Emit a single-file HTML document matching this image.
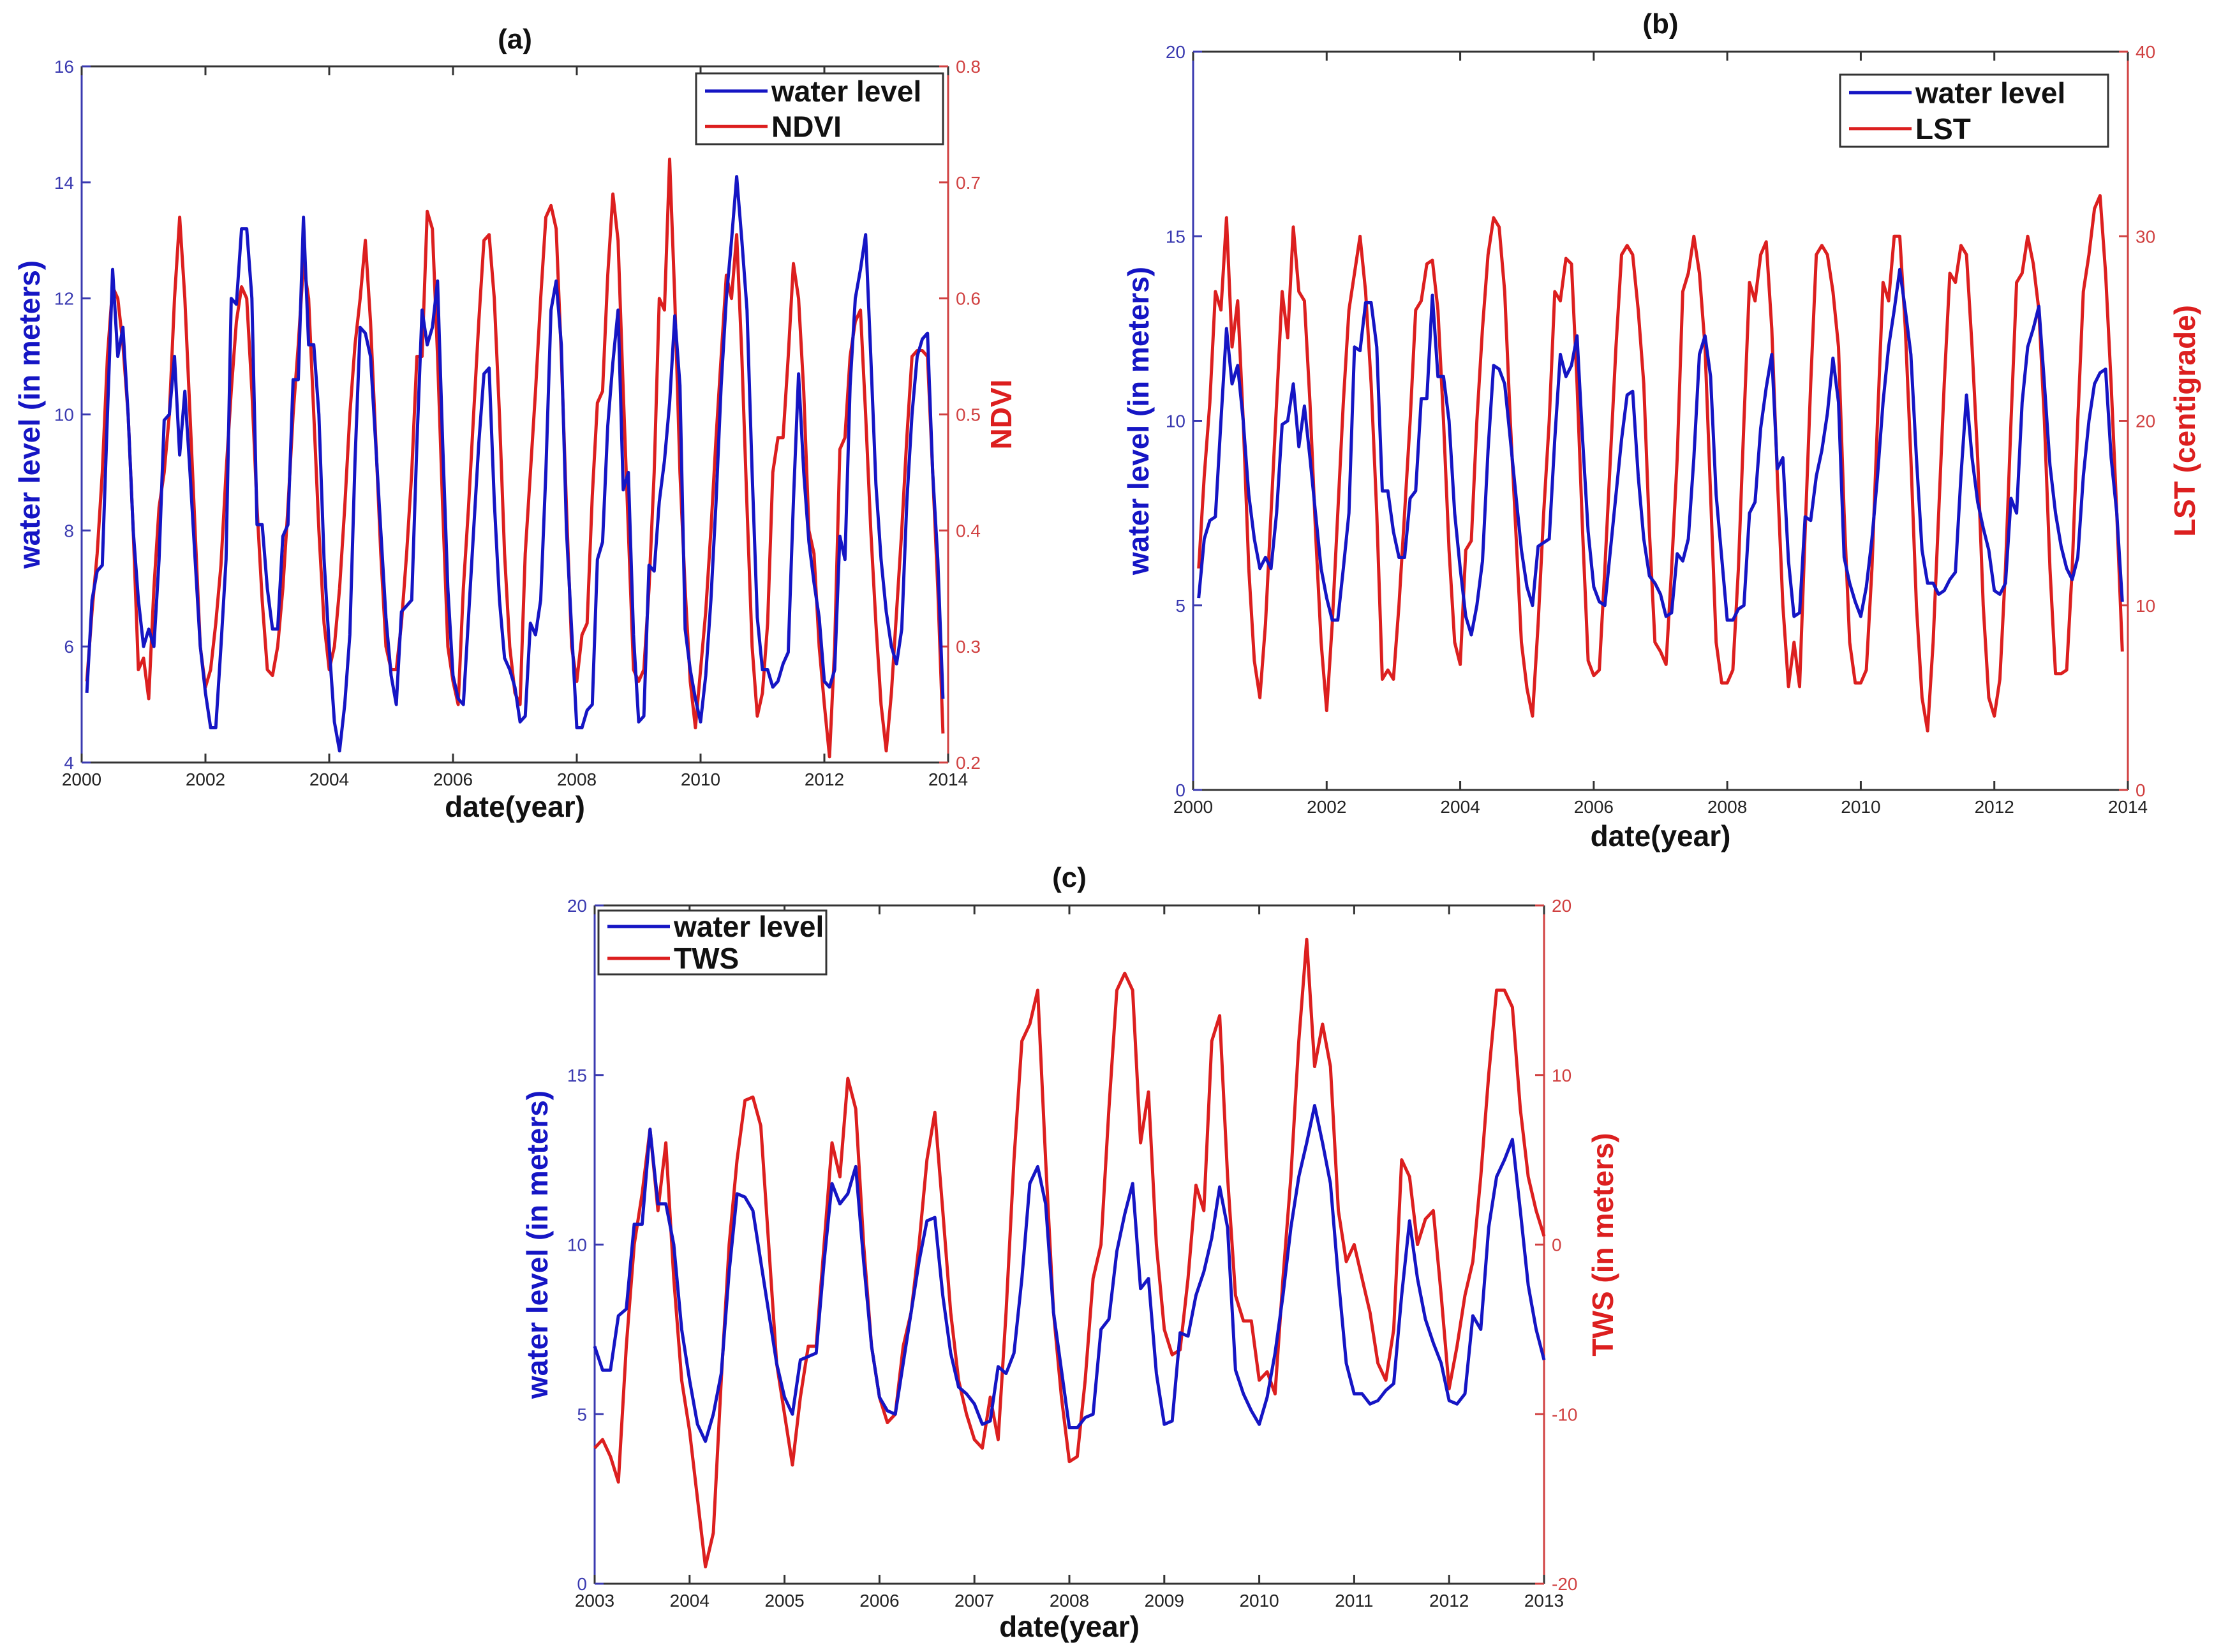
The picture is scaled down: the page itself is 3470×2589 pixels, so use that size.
<!DOCTYPE html>
<html><head><meta charset="utf-8"><style>
html,body{margin:0;padding:0;background:#fff;}
svg{display:block;font-family:"Liberation Sans",Arial,sans-serif;}
</style></head><body>
<svg id="fig" width="3470" height="2589" viewBox="0 0 3470 2589" xmlns="http://www.w3.org/2000/svg"></svg>
<script>
// ---- data (monthly, water level & NDVI & LST from Feb 2000 to Dec 2013) ----
const waterLevel = [5.2,6.8,7.3,7.4,10.0,12.5,11.0,11.5,10.0,8.0,6.8,
6.0,6.3,6.0,7.5,9.9,10.0,11.0,9.3,10.4,9.0,7.5,6.0,
5.2,4.6,4.6,6.0,7.5,12.0,11.9,13.2,13.2,12.0,8.1,8.1,
7.0,6.3,6.3,7.9,8.1,10.6,10.6,13.4,11.2,11.2,10.0,7.5,
6.0,4.7,4.2,5.0,6.2,9.2,11.5,11.4,11.0,9.5,8.0,6.5,
5.5,5.0,6.6,6.7,6.8,9.5,11.8,11.2,11.5,12.3,9.5,7.0,
5.5,5.1,5.0,6.5,8.0,9.5,10.7,10.8,8.5,6.8,5.8,5.6,
5.3,4.7,4.8,6.4,6.2,6.8,9.0,11.8,12.3,11.2,8.0,6.3,
4.6,4.6,4.9,5.0,7.5,7.8,9.8,10.9,11.8,8.7,9.0,6.2,
4.7,4.8,7.4,7.3,8.5,9.2,10.2,11.7,10.5,6.3,5.6,5.1,
4.7,5.5,6.8,8.5,10.5,12.0,13.0,14.1,13.0,11.8,9.0,6.5,
5.6,5.6,5.3,5.4,5.7,5.9,8.5,10.7,9.0,7.8,7.1,6.5,
5.4,5.3,5.6,7.9,7.5,10.5,12.0,12.5,13.1,11.0,8.8,7.5,
6.6,6.0,5.7,6.3,8.5,10.0,11.0,11.3,11.4,9.0,7.5,5.1];
const ndvi = [0.27,0.33,0.38,0.45,0.55,0.61,0.60,0.56,0.50,0.40,0.28,
0.29,0.255,0.35,0.42,0.45,0.50,0.60,0.67,0.60,0.50,0.40,0.30,
0.265,0.28,0.32,0.37,0.45,0.52,0.58,0.61,0.60,0.52,0.42,0.34,
0.28,0.275,0.30,0.35,0.42,0.50,0.56,0.63,0.60,0.50,0.40,0.32,
0.28,0.30,0.35,0.42,0.50,0.56,0.60,0.65,0.58,0.48,0.38,0.30,
0.28,0.28,0.32,0.38,0.45,0.55,0.55,0.675,0.66,0.55,0.42,0.30,
0.27,0.25,0.35,0.42,0.50,0.58,0.65,0.655,0.60,0.50,0.38,0.30,
0.26,0.25,0.38,0.45,0.52,0.60,0.67,0.68,0.66,0.55,0.42,0.30,
0.27,0.31,0.32,0.43,0.51,0.52,0.62,0.69,0.65,0.52,0.40,0.28,
0.27,0.28,0.35,0.45,0.60,0.59,0.72,0.60,0.45,0.35,0.27,0.23,
0.28,0.33,0.40,0.48,0.55,0.62,0.60,0.655,0.55,0.42,0.30,0.24,
0.26,0.32,0.45,0.48,0.48,0.55,0.63,0.60,0.52,0.40,0.38,0.30,
0.25,0.205,0.30,0.47,0.48,0.55,0.58,0.59,0.50,0.40,0.32,0.25,
0.21,0.26,0.33,0.40,0.48,0.55,0.555,0.555,0.55,0.45,0.35,0.225];
const lst = [12,17,21,27,26,31,24,26.5,20,12,7,
5,9,15,21,27,24.5,30.5,27,26.5,21,14,8,
4.3,9,15,21,26,28,30,27,22,15,6,6.5,
6,10,15,20,26,26.5,28.5,28.7,26,20,13,8,
6.8,13,13.5,20,25,29,31,30.5,27,20,14,8,
5.5,4,9,15,20,27,26.5,28.8,28.5,22,14,7,
6.2,6.5,12,18,24,29,29.5,29,26,22,14,8,
7.5,6.8,12,18,27,28,30,28,24,16,8,5.8,
5.8,6.5,12,20,27.5,26.5,29,29.7,25,17,10,5.6,
8,5.6,14,22,29,29.5,29,27,24,15,8,5.8,
5.8,6.5,12,20,27.5,26.5,30,30,25,18,10,5,
3.2,8,15,22,28,27.5,29.5,29,24,18,10,5,
4,6,12,20,27.5,28,30,28.5,26,20,12,6.3,
6.3,6.5,12,20,27,29,31.5,32.2,28,22,15,7.5];
// TWS monthly Jan 2003 .. Jan 2013
const tws = [-12,-11.5,-12.5,-14,-6,0,3,6.8,2,6,-2,-8,
-11,-15,-19,-17,-8,0,5,8.5,8.7,7,0,-7,
-10,-13,-9,-6,-6,0,6,4,9.8,8,0,-6,
-9,-10.5,-10,-6,-4,0,5,7.8,2,-4,-8,-10,
-11.5,-12,-9,-11.5,-4,5,12,13,15,5,-4,-9,
-12.8,-12.5,-8,-2,0,8,15,16,15,6,9,0,
-5,-6.5,-6.2,-2,3.5,2,12,13.5,4,-3,-4.5,-4.5,
-8,-7.5,-8.8,-2,4,12,18,10.5,13,10.5,2,-1,
0,-2,-4,-7,-8,-5,5,4,0,1.5,2,-3,
-8.5,-6,-3,-1,4,10,15,15,14,8,4,2,
0.5];
const ticksXab = [2000,2002,2004,2006,2008,2010,2012,2014];
const ticksXc = [2003,2004,2005,2006,2007,2008,2009,2010,2011,2012,2013];
const ticksWlA = [4,6,8,10,12,14,16];
const ticksNdvi = [0.2,0.3,0.4,0.5,0.6,0.7,0.8];
const ticksWlB = [0,5,10,15,20];
const ticksLst = [0,10,20,30,40];
const ticksTws = [-20,-10,0,10,20];

const NS="http://www.w3.org/2000/svg";
const svg=document.getElementById('fig');
function mk(tag,attrs,parent){const e=document.createElementNS(NS,tag);for(const k in attrs)e.setAttribute(k,attrs[k]);(parent||svg).appendChild(e);return e;}
const BLUE="#1515c4", RED="#dc1f1f";

function panel(c){
  const g=mk('g',{});
  
  
  const sx=v=>c.L+(v-c.x0)/(c.x1-c.x0)*(c.R-c.L);
  const syl=v=>c.B-(v-c.yl0)/(c.yl1-c.yl0)*(c.B-c.T);
  const syr=v=>c.B-(v-c.yr0)/(c.yr1-c.yr0)*(c.B-c.T);
  // frame
  const top=mk('line',{x1:c.L,y1:c.T,x2:c.R,y2:c.T,stroke:"#333",'stroke-width':3},g);
  
  const bot=mk('line',{x1:c.L,y1:c.B,x2:c.R,y2:c.B,stroke:"#333",'stroke-width':3},g);
  
  const la=mk('line',{x1:c.L,y1:c.T,x2:c.L,y2:c.B,stroke:"#3a3ab0",'stroke-width':3},g);
  
  const ra=mk('line',{x1:c.R,y1:c.T,x2:c.R,y2:c.B,stroke:"#d04040",'stroke-width':3},g);
  
  // x ticks
  c.xt.forEach(v=>{
    const x=sx(v);
    mk('line',{x1:x,y1:c.B,x2:x,y2:c.B-14,stroke:"#333",'stroke-width':3},g);
    mk('line',{x1:x,y1:c.T,x2:x,y2:c.T+14,stroke:"#333",'stroke-width':3},g);
    const t=mk('text',{x:x,y:c.B+36,'font-size':28,'text-anchor':'middle',fill:'#222'},g);
    t.textContent=v;
    
    
  });
  c.ytl.forEach(v=>{
    const y=syl(v);
    mk('line',{x1:c.L,y1:y,x2:c.L+14,y2:y,stroke:"#3a3ab0",'stroke-width':3},g);
    const t=mk('text',{x:c.L-12,y:y+10,'font-size':28,'text-anchor':'end',fill:'#3a3ab0'},g);
    t.textContent=v;
    
    
  });
  c.ytr.forEach(v=>{
    const y=syr(v);
    mk('line',{x1:c.R,y1:y,x2:c.R-14,y2:y,stroke:"#d04040",'stroke-width':3},g);
    const t=mk('text',{x:c.R+12,y:y+10,'font-size':28,'text-anchor':'start',fill:'#d04040'},g);
    t.textContent=(Math.round(v*10)/10).toString();
    
    
  });
  // series
  function line(vals,t0,sy,col,nm){
    const pts=vals.map((v,i)=>sx(t0+i/12).toFixed(1)+','+sy(v).toFixed(1)).join(' ');
    const p=mk('polyline',{points:pts,fill:'none',stroke:col,'stroke-width':5,'stroke-linejoin':'round'},g);
    
    
  }
  line(c.rv,c.rt0,syr,RED,c.rname);
  line(c.wv,c.wt0,syl,BLUE,'water-level-line');
  // titles
  const ti=mk('text',{x:(c.L+c.R)/2,y:c.titleY,'font-size':44,'font-weight':'bold','text-anchor':'middle',fill:'#111'},g);
  ti.textContent=c.title;
  
  const xl=mk('text',{x:(c.L+c.R)/2,y:c.xlY,'font-size':46,'font-weight':'bold','text-anchor':'middle',fill:'#111'},g);
  xl.textContent='date(year)';
  
  const cy=(c.T+c.B)/2;
  const yl=mk('text',{x:0,y:0,'font-size':46,'font-weight':'bold','text-anchor':'middle',fill:BLUE,transform:`translate(${c.ylX},${cy}) rotate(-90)`},g);
  yl.textContent='water level (in meters)';
  
  const yr=mk('text',{x:0,y:0,'font-size':46,'font-weight':'bold','text-anchor':'middle',fill:RED,transform:`translate(${c.yrX},${cy}) rotate(-90)`},g);
  yr.textContent=c.rlabel;
  
  // legend
  const lg=mk('g',{},g);
  
  const lb=c.leg;
  mk('rect',{x:lb[0],y:lb[1],width:lb[2]-lb[0],height:lb[3]-lb[1],fill:'#fff',stroke:'#333','stroke-width':3},lg);
  const h=(lb[3]-lb[1])/2;
  [[BLUE,'water level'],[RED,c.rshort]].forEach((e,k)=>{
    const y=lb[1]+h*(k+0.5);
    mk('line',{x1:lb[0]+14,y1:y,x2:lb[0]+112,y2:y,stroke:e[0],'stroke-width':5},lg);
    const t=mk('text',{x:lb[0]+118,y:y+16,'font-size':46,'font-weight':'bold',fill:'#111'},lg);
    t.textContent=e[1];
    
    
  });
}

panel({name:'panel-a',L:128,R:1486,T:104,B:1195,x0:2000,x1:2014,yl0:4,yl1:16,yr0:0.2,yr1:0.8,
  xt:ticksXab,ytl:ticksWlA,ytr:ticksNdvi,wv:waterLevel,wt0:2000+1/12,rv:ndvi,rt0:2000+1/12,
  rname:'ndvi-line',title:'(a)',titleY:76,xlY:1280,ylX:62,yrX:1585,rlabel:'NDVI',rshort:'NDVI',
  leg:[1091,115,1478,226]});
panel({name:'panel-b',L:1870,R:3335,T:81,B:1238,x0:2000,x1:2014,yl0:0,yl1:20,yr0:0,yr1:40,
  xt:ticksXab,ytl:ticksWlB,ytr:ticksLst,wv:waterLevel,wt0:2000+1/12,rv:lst,rt0:2000+1/12,
  rname:'lst-line',title:'(b)',titleY:52,xlY:1326,ylX:1800,yrX:3440,rlabel:'LST (centigrade)',rshort:'LST',
  leg:[2884,117,3304,230]});
panel({name:'panel-c',L:932,R:2420,T:1419,B:2482,x0:2003,x1:2013,yl0:0,yl1:20,yr0:-20,yr1:20,
  xt:ticksXc,ytl:ticksWlB,ytr:ticksTws,wv:waterLevel.slice(35,156),wt0:2003,rv:tws,rt0:2003,
  rname:'tws-line',title:'(c)',titleY:1390,xlY:2565,ylX:858,yrX:2528,rlabel:'TWS (in meters)',rshort:'TWS',
  leg:[938,1427,1295,1527]});
</script>
</body></html>
